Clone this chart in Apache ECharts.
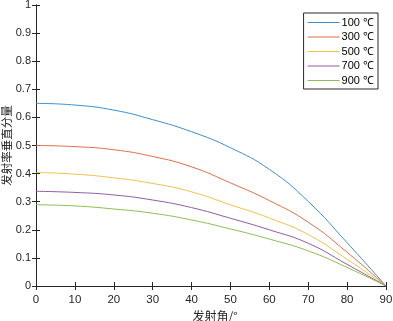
<!DOCTYPE html>
<html>
<head>
<meta charset="UTF-8">
<title>发射率垂直分量</title>
<script src="https://cdn.jsdelivr.net/npm/echarts@6/dist/echarts.min.js"></script>
<style>
  html, body { margin: 0; padding: 0; background: #fff; }
  #main { width: 393px; height: 321px; }
</style>
</head>
<body>
<div id="main"></div>
<script>
// 发射角（度）
var angles = [0, 10, 20, 30, 40, 50, 60, 70, 80, 90];
var names = ['100 ℃', '300 ℃', '500 ℃', '700 ℃', '900 ℃'];
var s100 = [0.650, 0.644, 0.626, 0.592, 0.549, 0.492, 0.415, 0.301, 0.154, 0];
var s300 = [0.500, 0.496, 0.485, 0.461, 0.424, 0.367, 0.304, 0.227, 0.120, 0];
var s500 = [0.404, 0.398, 0.385, 0.365, 0.335, 0.289, 0.242, 0.183, 0.095, 0];
var s700 = [0.337, 0.333, 0.324, 0.306, 0.279, 0.241, 0.200, 0.152, 0.077, 0];
var s900 = [0.289, 0.285, 0.274, 0.259, 0.235, 0.203, 0.167, 0.125, 0.066, 0];
var colors = ['#3d8fcf', '#df7048', '#efc24a', '#935ba6', '#8dbd55'];

var allSeries = [s100, s300, s500, s700, s900];
var chart = echarts.init(document.getElementById('main'));

function pairs(ys) {
  return angles.map(function (a, i) { return [a, ys[i]]; });
}

var axisTxt = { color: '#262626', fontFamily: 'Liberation Sans, Arial, sans-serif', fontSize: 11.5 };
var lineC = { lineStyle: { color: '#262626', width: 1 } };
var tickC = { inside: true, length: 4, lineStyle: { color: '#262626' } };

var option = {
  animation: false,
  backgroundColor: '#fff',
  grid: { left: 36, right: 7, top: 5, bottom: 35, containLabel: false, outerBoundsMode: 'none' },
  legend: {
    data: names,
    orient: 'vertical',
    right: 15, top: 13,
    backgroundColor: '#fff',
    borderColor: '#262626', borderWidth: 1,
    padding: [4, 4, 3, 4],
    itemGap: 3.5,
    icon: 'rect',
    itemWidth: 32, itemHeight: 1.2,
    textStyle: { color: '#000', fontSize: 11, lineHeight: 10, fontFamily: 'Liberation Sans, Arial, sans-serif', padding: [0, 0, 0, -3] }
  },
  xAxis: [{
    type: 'value', min: 0, max: 90, interval: 10,
    name: '发射角/°', nameLocation: 'middle', nameGap: 21,
    nameTextStyle: { fontFamily: 'Noto Sans CJK SC', fontSize: 12, color: '#262626', padding: [0, 0, 0, 8] },
    axisLine: lineC, axisTick: tickC,
    axisLabel: Object.assign({ margin: 8 }, axisTxt),
    splitLine: { show: false }
  }, {
    type: 'value', min: 0, max: 90, interval: 10, position: 'top',
    axisLine: lineC, axisTick: tickC,
    axisLabel: { show: false }, splitLine: { show: false }
  }],
  yAxis: [{
    type: 'value', min: 0, max: 1, interval: 0.1,
    name: '发射率垂直分量', nameLocation: 'middle', nameGap: 24, nameRotate: 90,
    nameMoveOverlap: false,
    nameTextStyle: { fontFamily: 'Noto Sans CJK SC', fontSize: 11.5, color: '#262626' },
    axisLine: lineC, axisTick: tickC,
    axisLabel: Object.assign({ margin: 5 }, axisTxt, { fontSize: 11 }),
    splitLine: { show: false }
  }, {
    type: 'value', min: 0, max: 1, interval: 0.1, position: 'right',
    axisLine: lineC, axisTick: tickC,
    axisLabel: { show: false }, splitLine: { show: false }
  }],
  series: allSeries.map(function (ys, i) {
    return {
      name: names[i], type: 'line', smooth: 0.5, smoothConstraint: false, symbol: 'none',
      data: pairs(ys),
      itemStyle: { color: colors[i] },
      lineStyle: { color: colors[i], width: 1 }
    };
  })
};
chart.setOption(option);
</script>
</body>
</html>
